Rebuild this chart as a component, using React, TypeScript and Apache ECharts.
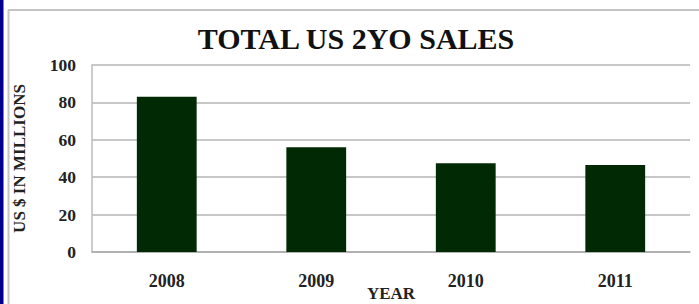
import React, { useEffect, useRef } from "react";
import * as echarts from "echarts";

const categories = ["2008", "2009", "2010", "2011"];
const sales = [83, 56, 47.5, 46.5];
const yTicks = [0, 20, 40, 60, 80, 100];

const FONT = "'Liberation Serif', 'Times New Roman', serif";

export default function App() {
  const ref = useRef<HTMLDivElement>(null);
  useEffect(() => {
    document.body.style.margin = "0";
    const chart = echarts.init(ref.current!, null, { renderer: "svg" });
    chart.setOption({
      animation: false,
      backgroundColor: "#ffffff",
      title: {
        text: "TOTAL US 2YO SALES",
        left: 351,
        top: 18,
        textAlign: "center",
        textStyle: { fontFamily: FONT, fontWeight: "bold", fontSize: 30, color: "#111" },
      },
      graphic: [
        { type: "rect", shape: { x: 0, y: 0, width: 3.5, height: 304 }, style: { fill: "#000090" } },
        { type: "line", shape: { x1: 8.5, y1: 10, x2: 8.5, y2: 304 }, style: { stroke: "#c4c4c4", lineWidth: 2 } },
        { type: "line", shape: { x1: 8, y1: 10, x2: 699, y2: 10 }, style: { stroke: "#c4c4c4", lineWidth: 2 } },
      ],
      grid: { left: 92, right: 9, top: 65, bottom: 52, outerBoundsMode: "none", containLabel: false },
      xAxis: {
        type: "category",
        data: categories,
        name: "YEAR",
        nameLocation: "middle",
        nameGap: 33,
        nameMoveOverlap: false,
        nameTextStyle: { fontFamily: FONT, fontWeight: "bold", fontSize: 17, color: "#222" },
        axisLine: { lineStyle: { color: "#aaaaaa", width: 1.5 } },
        axisTick: { show: false },
        axisLabel: { fontFamily: FONT, fontWeight: "bold", fontSize: 18, color: "#222", margin: 20 },
      },
      yAxis: {
        type: "value",
        min: yTicks[0],
        max: yTicks[yTicks.length - 1],
        interval: 20,
        name: "US $ IN MILLIONS",
        nameLocation: "middle",
        nameGap: 64,
        nameRotate: 90,
        nameMoveOverlap: false,
        nameTextStyle: { fontFamily: FONT, fontWeight: "bold", fontSize: 17, color: "#222" },
        axisLine: { show: true, lineStyle: { color: "#bbbbbb", width: 1.5 } },
        axisTick: { show: false },
        axisLabel: { fontFamily: FONT, fontWeight: "bold", fontSize: 17.5, color: "#222", margin: 16 },
        splitLine: { lineStyle: { color: "#b4b4b4", width: 1.5 } },
      },
      series: [
        {
          type: "bar",
          data: sales,
          barWidth: "40%",
          itemStyle: { color: "#012a04" },
        },
      ],
    });
    return () => chart.dispose();
  }, []);
  return <div ref={ref} style={{ width: 699, height: 304 }} />;
}
